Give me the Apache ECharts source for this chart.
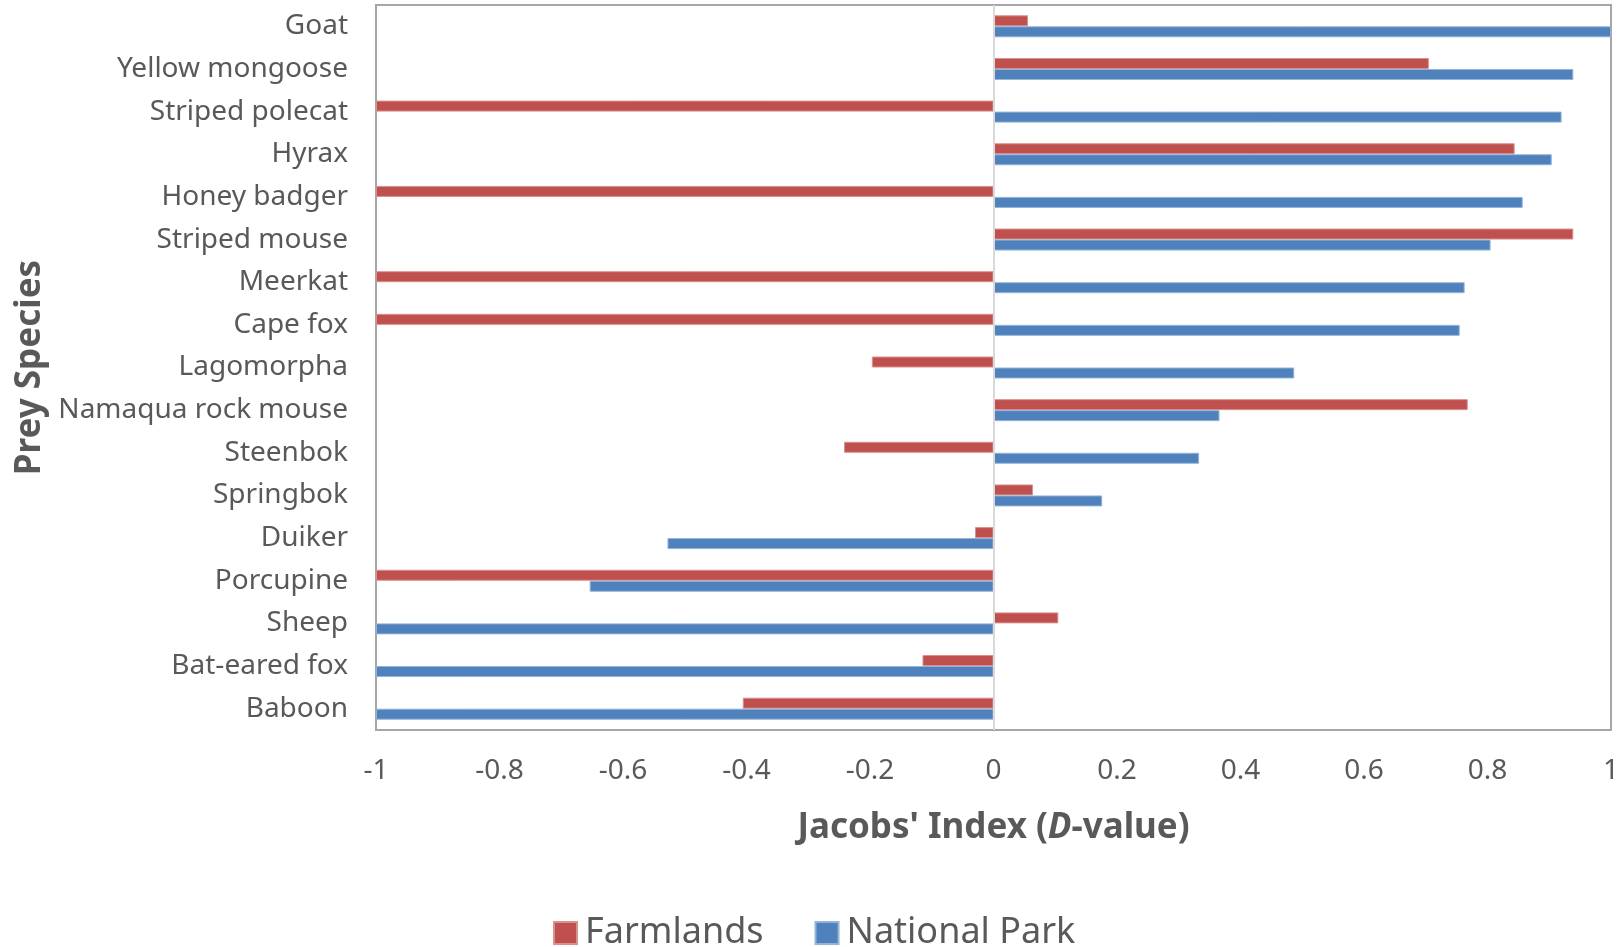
<!DOCTYPE html>
<html>
<head>
<meta charset="utf-8">
<script src="https://cdn.jsdelivr.net/npm/echarts@6/dist/echarts.min.js"></script>
<style>
html,body{margin:0;padding:0;background:#fff;}
#chart{width:1624px;height:947px;}
</style>
</head>
<body>
<div id="chart"></div>
<script>
const categories = ['Goat','Yellow mongoose','Striped polecat','Hyrax','Honey badger','Striped mouse','Meerkat','Cape fox','Lagomorpha','Namaqua rock mouse','Steenbok','Springbok','Duiker','Porcupine','Sheep','Bat-eared fox','Baboon'];
const farmlands = [0.056, 0.705, -1, 0.844, -1, 0.939, -1, -1, -0.197, 0.768, -0.242, 0.064, -0.030, -1, 0.105, -0.115, -0.406];
const nationalPark = [1, 0.939, 0.920, 0.904, 0.857, 0.805, 0.763, 0.755, 0.487, 0.366, 0.333, 0.176, -0.528, -0.654, -1, -1, -1];
const xTickLabels = ['-1','-0.8','-0.6','-0.4','-0.2','0','0.2','0.4','0.6','0.8','1'];
const seriesNames = ['Farmlands','National Park'];

const FONT = 'Noto Sans';
const TXT = '#595959';
const chart = echarts.init(document.getElementById('chart'), null, {renderer:'canvas'});
chart.setOption({
  animation: false,
  backgroundColor: '#ffffff',
  textStyle: {fontFamily: FONT, color: TXT},
  grid: {left: 376, right: 13, top: 5, bottom: 217, show: true, borderColor: '#A6A6A6', borderWidth: 2, containLabel: false},
  legend: {
    data: seriesNames, left: 553, top: 915, padding: 0, icon: 'rect',
    itemWidth: 23, itemHeight: 22, itemGap: 51,
    textStyle: {fontFamily: FONT, fontSize: 36, color: TXT, padding: [0,0,0,3]}
  },
  xAxis: {
    type: 'value', min: -1, max: 1, interval: 0.2,
    name: "Jacobs' Index ({i|D}-value)", nameLocation: 'middle', nameGap: 81,
    nameTextStyle: {fontFamily: FONT, fontSize: 35, fontWeight: 'bold', color: TXT,
      rich: {i: {fontFamily: FONT, fontSize: 35, fontWeight: 'bold', fontStyle: 'italic', color: TXT}}},
    axisLine: {show: false}, axisTick: {show: false}, splitLine: {show: false},
    axisLabel: {fontFamily: FONT, fontSize: 28, color: TXT, margin: 27,
      formatter: function(v){ return xTickLabels[Math.round((v + 1) / 0.2)]; }}
  },
  yAxis: {
    type: 'category', data: categories, inverse: true,
    name: 'Prey Species', nameLocation: 'middle', nameRotate: 90, nameGap: 328,
    nameTextStyle: {fontFamily: FONT, fontSize: 35, fontWeight: 'bold', color: TXT},
    axisLine: {show: false, onZero: false}, axisTick: {show: false},
    axisLabel: {fontFamily: FONT, fontSize: 28, color: TXT, margin: 28}
  },
  series: [
    {name: 'Farmlands', type: 'bar', data: farmlands, barWidth: 11, barGap: '0%',
     itemStyle: {color: '#C0504D', borderColor: '#D7918F', borderWidth: 1},
     markLine: {silent: true, symbol: 'none', label: {show: false},
       lineStyle: {color: '#D9D9D9', width: 2, type: 'solid'}, data: [{xAxis: 0}]}},
    {name: 'National Park', type: 'bar', data: nationalPark, barWidth: 11, barGap: '0%',
     itemStyle: {color: '#4F81BD', borderColor: '#95B3D7', borderWidth: 1}}
  ]
});
</script>
</body>
</html>
